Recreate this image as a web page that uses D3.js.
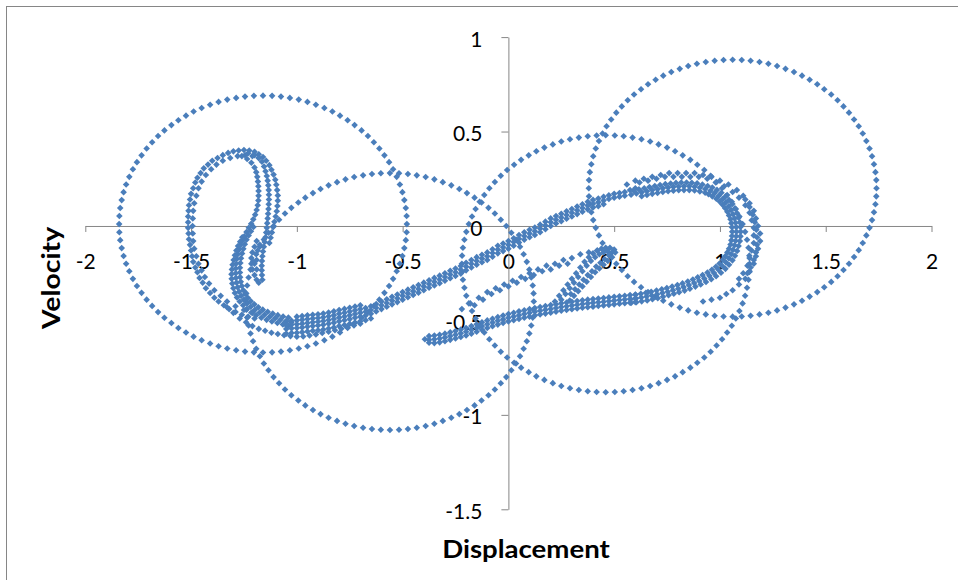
<!DOCTYPE html>
<html><head><meta charset="utf-8">
<script src="https://cdn.jsdelivr.net/npm/d3@7"></script>
<style>body{margin:0;background:#fff}svg{display:block}</style>
</head><body>
<svg id="c" width="958" height="580"></svg>
<script>
const xTicks=[-2,-1.5,-1,-0.5,0,0.5,1,1.5,2];
const yTicks=[-1.5,-1,-0.5,0,0.5,1];
const xTitle="Displacement", yTitle="Velocity";

// dotted circles
const circleLeft=[[-0.48,0.01],[-0.481,0.053],[-0.485,0.095],[-0.492,0.137],[-0.501,0.179],[-0.513,0.22],[-0.528,0.26],[-0.545,0.3],[-0.564,0.338],[-0.586,0.374],[-0.61,0.41],[-0.636,0.443],[-0.664,0.476],[-0.694,0.506],[-0.727,0.534],[-0.76,0.56],[-0.796,0.584],[-0.832,0.606],[-0.87,0.625],[-0.91,0.642],[-0.95,0.657],[-0.991,0.669],[-1.033,0.678],[-1.075,0.685],[-1.117,0.689],
[-1.16,0.69],[-1.203,0.689],[-1.245,0.685],[-1.287,0.678],[-1.329,0.669],[-1.37,0.657],[-1.41,0.642],[-1.45,0.625],[-1.488,0.606],[-1.524,0.584],[-1.56,0.56],[-1.593,0.534],[-1.626,0.506],[-1.656,0.476],[-1.684,0.443],[-1.71,0.41],[-1.734,0.374],[-1.756,0.338],[-1.775,0.3],[-1.792,0.26],[-1.807,0.22],[-1.819,0.179],[-1.828,0.137],[-1.835,0.095],[-1.839,0.053],
[-1.84,0.01],[-1.839,-0.033],[-1.835,-0.075],[-1.828,-0.117],[-1.819,-0.159],[-1.807,-0.2],[-1.792,-0.24],[-1.775,-0.28],[-1.756,-0.318],[-1.734,-0.354],[-1.71,-0.39],[-1.684,-0.423],[-1.656,-0.456],[-1.626,-0.486],[-1.593,-0.514],[-1.56,-0.54],[-1.524,-0.564],[-1.488,-0.586],[-1.45,-0.605],[-1.41,-0.622],[-1.37,-0.637],[-1.329,-0.649],[-1.287,-0.658],[-1.245,-0.665],[-1.203,-0.669],
[-1.16,-0.67],[-1.117,-0.669],[-1.075,-0.665],[-1.033,-0.658],[-0.991,-0.649],[-0.95,-0.637],[-0.91,-0.622],[-0.87,-0.605],[-0.832,-0.586],[-0.796,-0.564],[-0.76,-0.54],[-0.727,-0.514],[-0.694,-0.486],[-0.664,-0.456],[-0.636,-0.423],[-0.61,-0.39],[-0.586,-0.354],[-0.564,-0.318],[-0.545,-0.28],[-0.528,-0.24],[-0.513,-0.2],[-0.501,-0.159],[-0.492,-0.117],[-0.485,-0.075],[-0.481,-0.033]];

const circleLowMid=[[0.12,-0.4],[0.119,-0.357],[0.115,-0.315],[0.108,-0.273],[0.099,-0.231],[0.087,-0.19],[0.072,-0.15],[0.055,-0.11],[0.036,-0.072],[0.014,-0.036],[-0.01,0],[-0.036,0.033],[-0.064,0.066],[-0.094,0.096],[-0.127,0.124],[-0.16,0.15],[-0.196,0.174],[-0.232,0.196],[-0.27,0.215],[-0.31,0.232],[-0.35,0.247],[-0.391,0.259],[-0.433,0.268],[-0.475,0.275],[-0.517,0.279],
[-0.56,0.28],[-0.603,0.279],[-0.645,0.275],[-0.687,0.268],[-0.729,0.259],[-0.77,0.247],[-0.81,0.232],[-0.85,0.215],[-0.888,0.196],[-0.924,0.174],[-0.96,0.15],[-0.993,0.124],[-1.026,0.096],[-1.056,0.066],[-1.084,0.033],[-1.11,0],[-1.134,-0.036],[-1.156,-0.072],[-1.175,-0.11],[-1.192,-0.15],[-1.207,-0.19],[-1.219,-0.231],[-1.228,-0.273],[-1.235,-0.315],[-1.239,-0.357],
[-1.24,-0.4],[-1.239,-0.443],[-1.235,-0.485],[-1.228,-0.527],[-1.219,-0.569],[-1.207,-0.61],[-1.192,-0.65],[-1.175,-0.69],[-1.156,-0.728],[-1.134,-0.764],[-1.11,-0.8],[-1.084,-0.833],[-1.056,-0.866],[-1.026,-0.896],[-0.993,-0.924],[-0.96,-0.95],[-0.924,-0.974],[-0.888,-0.996],[-0.85,-1.015],[-0.81,-1.032],[-0.77,-1.047],[-0.729,-1.059],[-0.687,-1.068],[-0.645,-1.075],[-0.603,-1.079],
[-0.56,-1.08],[-0.517,-1.079],[-0.475,-1.075],[-0.433,-1.068],[-0.391,-1.059],[-0.35,-1.047],[-0.31,-1.032],[-0.27,-1.015],[-0.232,-0.996],[-0.196,-0.974],[-0.16,-0.95],[-0.127,-0.924],[-0.094,-0.896],[-0.064,-0.866],[-0.036,-0.833],[-0.01,-0.8],[0.014,-0.764],[0.036,-0.728],[0.055,-0.69],[0.072,-0.65],[0.087,-0.61],[0.099,-0.569],[0.108,-0.527],[0.115,-0.485],[0.119,-0.443]];

const circleMidRight=[[1.14,-0.2],[1.139,-0.157],[1.135,-0.115],[1.128,-0.073],[1.119,-0.031],[1.107,0.01],[1.092,0.05],[1.075,0.09],[1.056,0.128],[1.034,0.164],[1.01,0.2],[0.984,0.233],[0.956,0.266],[0.926,0.296],[0.893,0.324],[0.86,0.35],[0.824,0.374],[0.788,0.396],[0.75,0.415],[0.71,0.432],[0.67,0.447],[0.629,0.459],[0.587,0.468],[0.545,0.475],[0.503,0.479],
[0.46,0.48],[0.417,0.479],[0.375,0.475],[0.333,0.468],[0.291,0.459],[0.25,0.447],[0.21,0.432],[0.17,0.415],[0.132,0.396],[0.096,0.374],[0.06,0.35],[0.027,0.324],[-0.006,0.296],[-0.036,0.266],[-0.064,0.233],[-0.09,0.2],[-0.114,0.164],[-0.136,0.128],[-0.155,0.09],[-0.172,0.05],[-0.187,0.01],[-0.199,-0.031],[-0.208,-0.073],[-0.215,-0.115],[-0.219,-0.157],
[-0.22,-0.2],[-0.219,-0.243],[-0.215,-0.285],[-0.208,-0.327],[-0.199,-0.369],[-0.187,-0.41],[-0.172,-0.45],[-0.155,-0.49],[-0.136,-0.528],[-0.114,-0.564],[-0.09,-0.6],[-0.064,-0.633],[-0.036,-0.666],[-0.006,-0.696],[0.027,-0.724],[0.06,-0.75],[0.096,-0.774],[0.132,-0.796],[0.17,-0.815],[0.21,-0.832],[0.25,-0.847],[0.291,-0.859],[0.333,-0.868],[0.375,-0.875],[0.417,-0.879],
[0.46,-0.88],[0.503,-0.879],[0.545,-0.875],[0.587,-0.868],[0.629,-0.859],[0.67,-0.847],[0.71,-0.832],[0.75,-0.815],[0.788,-0.796],[0.824,-0.774],[0.86,-0.75],[0.893,-0.724],[0.926,-0.696],[0.956,-0.666],[0.984,-0.633],[1.01,-0.6],[1.034,-0.564],[1.056,-0.528],[1.075,-0.49],[1.092,-0.45],[1.107,-0.41],[1.119,-0.369],[1.128,-0.327],[1.135,-0.285],[1.139,-0.243]];

const circleRight=[[1.74,0.2],[1.739,0.243],[1.735,0.285],[1.728,0.327],[1.719,0.369],[1.707,0.41],[1.692,0.45],[1.675,0.49],[1.656,0.528],[1.634,0.564],[1.61,0.6],[1.584,0.633],[1.556,0.666],[1.526,0.696],[1.493,0.724],[1.46,0.75],[1.424,0.774],[1.388,0.796],[1.35,0.815],[1.31,0.832],[1.27,0.847],[1.229,0.859],[1.187,0.868],[1.145,0.875],[1.103,0.879],
[1.06,0.88],[1.017,0.879],[0.975,0.875],[0.933,0.868],[0.891,0.859],[0.85,0.847],[0.81,0.832],[0.77,0.815],[0.732,0.796],[0.696,0.774],[0.66,0.75],[0.627,0.724],[0.594,0.696],[0.564,0.666],[0.536,0.633],[0.51,0.6],[0.486,0.564],[0.464,0.528],[0.445,0.49],[0.428,0.45],[0.413,0.41],[0.401,0.369],[0.392,0.327],[0.385,0.285],[0.381,0.243],
[0.38,0.2],[0.381,0.157],[0.385,0.115],[0.392,0.073],[0.401,0.031],[0.413,-0.01],[0.428,-0.05],[0.445,-0.09],[0.464,-0.128],[0.486,-0.164],[0.51,-0.2],[0.536,-0.233],[0.564,-0.266],[0.594,-0.296],[0.627,-0.324],[0.66,-0.35],[0.696,-0.374],[0.732,-0.396],[0.77,-0.415],[0.81,-0.432],[0.85,-0.447],[0.891,-0.459],[0.933,-0.468],[0.975,-0.475],[1.017,-0.479],
[1.06,-0.48],[1.103,-0.479],[1.145,-0.475],[1.187,-0.468],[1.229,-0.459],[1.27,-0.447],[1.31,-0.432],[1.35,-0.415],[1.388,-0.396],[1.424,-0.374],[1.46,-0.35],[1.493,-0.324],[1.526,-0.296],[1.556,-0.266],[1.584,-0.233],[1.61,-0.2],[1.634,-0.164],[1.656,-0.128],[1.675,-0.09],[1.692,-0.05],[1.707,-0.01],[1.719,0.031],[1.728,0.073],[1.735,0.115],[1.739,0.157]];

// ---- attractor: left well ----
const leftOuter=[[-1.2,-0.49],[-1.23,-0.48],[-1.26,-0.47],[-1.29,-0.455],[-1.32,-0.44],[-1.345,-0.42],[-1.37,-0.4],[-1.39,-0.38],[-1.41,-0.355],[-1.43,-0.33],[-1.445,-0.3],[-1.46,-0.275],[-1.47,-0.245],[-1.48,-0.22],[-1.49,-0.19],[-1.495,-0.16],[-1.5,-0.13],[-1.505,-0.1],[-1.51,-0.07],[-1.512,-0.04],[-1.514,-0.01],[-1.514,0.02],[-1.514,0.05],[-1.512,0.08],[-1.51,0.11],[-1.505,0.14],[-1.5,0.17],[-1.49,0.2],[-1.48,0.23],[-1.47,0.255],[-1.455,0.28],[-1.44,0.305],[-1.42,0.325],[-1.4,0.345],[-1.375,0.36],[-1.35,0.375],[-1.325,0.387],[-1.3,0.395],[-1.275,0.4],[-1.25,0.402],[-1.225,0.4],[-1.2,0.393],[-1.18,0.38],[-1.16,0.365],[-1.145,0.345],[-1.13,0.322],[-1.12,0.298],[-1.11,0.272],[-1.102,0.245],[-1.097,0.218],[-1.093,0.19],[-1.09,0.162],[-1.09,0.134],[-1.092,0.106],[-1.095,0.078],[-1.1,0.05],[-1.106,0.022],[-1.112,-0.006],[-1.118,-0.034],[-1.124,-0.062],[-1.13,-0.09]];
const leftOuter2=[[-1.21,-0.46],[-1.25,-0.445],[-1.29,-0.425],[-1.33,-0.4],[-1.36,-0.37],[-1.39,-0.34],[-1.415,-0.305],[-1.435,-0.27],[-1.45,-0.235],[-1.465,-0.2],[-1.475,-0.16],[-1.485,-0.12],[-1.49,-0.08],[-1.492,-0.04],[-1.493,0],[-1.492,0.04],[-1.49,0.08],[-1.485,0.12],[-1.475,0.16],[-1.465,0.2],[-1.45,0.235],[-1.43,0.27],[-1.405,0.3],[-1.38,0.325],[-1.35,0.345],[-1.315,0.36],[-1.28,0.37],[-1.245,0.375],[-1.21,0.37],[-1.18,0.36]];
const leftMid=[[-1.23,0.385],[-1.2,0.375],[-1.18,0.36],[-1.165,0.34],[-1.155,0.315],[-1.148,0.29],[-1.142,0.265],[-1.138,0.24],[-1.135,0.215],[-1.133,0.19],[-1.132,0.165],[-1.132,0.14],[-1.133,0.115],[-1.134,0.09],[-1.136,0.065],[-1.138,0.04],[-1.14,0.015],[-1.142,-0.01],[-1.145,-0.035],[-1.148,-0.06],[-1.152,-0.085],[-1.156,-0.11],[-1.16,-0.135],[-1.163,-0.16],[-1.165,-0.185],[-1.166,-0.21],[-1.166,-0.235],[-1.165,-0.26],[-1.163,-0.285]];
const leftBlob=[[-1.19,-0.08],[-1.2,-0.11],[-1.21,-0.14],[-1.215,-0.17],[-1.215,-0.2],[-1.21,-0.23],[-1.2,-0.26],[-1.19,-0.285],[-1.18,-0.3],[-1.185,-0.13],[-1.19,-0.18],[-1.19,-0.23],[-1.175,-0.1],[-1.2,-0.2]];
const leftS1=[[-1.26,0.37],[-1.235,0.355],[-1.215,0.335],[-1.2,0.31],[-1.192,0.285],[-1.187,0.26],[-1.184,0.235],[-1.182,0.21],[-1.181,0.185],[-1.181,0.16],[-1.182,0.135],[-1.185,0.11],[-1.19,0.085],[-1.197,0.06],[-1.206,0.035],[-1.216,0.012],[-1.227,-0.01],[-1.238,-0.032],[-1.248,-0.055],[-1.258,-0.078],[-1.266,-0.1],[-1.273,-0.125],[-1.279,-0.15],[-1.284,-0.175],[-1.287,-0.2],[-1.289,-0.225],[-1.289,-0.25],[-1.288,-0.275],[-1.285,-0.3],[-1.28,-0.325],[-1.273,-0.348],[-1.263,-0.37],[-1.25,-0.39],[-1.235,-0.41],[-1.218,-0.428],[-1.198,-0.444],[-1.176,-0.458],[-1.153,-0.47],[-1.128,-0.48],[-1.103,-0.489],[-1.078,-0.497],[-1.052,-0.504],[-1.026,-0.51]];
const leftS2=[[-1.205,-0.005],[-1.217,-0.028],[-1.228,-0.05],[-1.238,-0.073],[-1.246,-0.097],[-1.253,-0.121],[-1.259,-0.146],[-1.264,-0.171],[-1.267,-0.196],[-1.269,-0.221],[-1.269,-0.246],[-1.268,-0.271],[-1.265,-0.295],[-1.26,-0.318],[-1.253,-0.34],[-1.244,-0.36],[-1.232,-0.38],[-1.218,-0.398],[-1.201,-0.415],[-1.182,-0.43],[-1.161,-0.443],[-1.138,-0.454],[-1.114,-0.464],[-1.09,-0.472],[-1.065,-0.479],[-1.04,-0.485]];
const leftS3=[[-1.258,-0.06],[-1.268,-0.083],[-1.278,-0.106],[-1.286,-0.13],[-1.293,-0.155],[-1.299,-0.18],[-1.304,-0.205],[-1.307,-0.23],[-1.309,-0.255],[-1.308,-0.28],[-1.305,-0.305],[-1.3,-0.33],[-1.293,-0.355],[-1.283,-0.378],[-1.27,-0.4],[-1.254,-0.42],[-1.236,-0.44],[-1.215,-0.458],[-1.192,-0.473],[-1.168,-0.486],[-1.143,-0.497],[-1.118,-0.506],[-1.092,-0.514],[-1.066,-0.521],[-1.04,-0.527]];
const leftBottom=[[-1.33,-0.43],[-1.3,-0.46],[-1.27,-0.49],[-1.24,-0.51],[-1.21,-0.53],[-1.18,-0.545],[-1.15,-0.555],[-1.12,-0.565],[-1.09,-0.572],[-1.06,-0.578],[-1.03,-0.583],[-1,-0.586],[-0.97,-0.585],[-0.94,-0.58],[-0.91,-0.574],[-0.88,-0.567],[-0.85,-0.56],[-0.82,-0.552],[-0.79,-0.544],[-0.76,-0.536],[-0.73,-0.527],[-0.7,-0.518]];

// ---- diagonal band (left well -> right well) ----
const diagTop=[[-1.05,-0.505],[-1.025,-0.502],[-1,-0.5],[-0.975,-0.497],[-0.95,-0.493],[-0.925,-0.49],[-0.9,-0.487],[-0.875,-0.483],[-0.85,-0.478],[-0.825,-0.472],[-0.8,-0.465],[-0.775,-0.459],[-0.75,-0.453],[-0.725,-0.446],[-0.7,-0.44],[-0.675,-0.434],[-0.65,-0.425],[-0.625,-0.413],[-0.6,-0.4],[-0.575,-0.388],[-0.55,-0.375],[-0.525,-0.363],[-0.5,-0.35],[-0.475,-0.337],[-0.45,-0.325],[-0.425,-0.313],[-0.4,-0.3],[-0.375,-0.287],[-0.35,-0.275],[-0.325,-0.263],[-0.3,-0.25],[-0.275,-0.237],[-0.25,-0.225],[-0.225,-0.212],[-0.2,-0.195],[-0.175,-0.18],[-0.15,-0.165],[-0.125,-0.152],[-0.1,-0.14],[-0.075,-0.123],[-0.05,-0.105],[-0.025,-0.093],[0,-0.08],[0.025,-0.065],[0.05,-0.048],[0.075,-0.033],[0.1,-0.02],[0.125,-0.008],[0.15,0.007],[0.175,0.023],[0.2,0.04],[0.225,0.053],[0.25,0.065],[0.275,0.078],[0.3,0.09],[0.325,0.103],[0.35,0.115],[0.375,0.128],[0.4,0.138],[0.425,0.145],[0.45,0.155],[0.475,0.163],[0.5,0.17],[0.525,0.175],[0.55,0.18],[0.575,0.19],[0.6,0.2]];
const diagMid=[[-1.05,-0.525],[-1.025,-0.522],[-1,-0.52],[-0.975,-0.517],[-0.95,-0.513],[-0.925,-0.51],[-0.9,-0.507],[-0.875,-0.503],[-0.85,-0.498],[-0.825,-0.492],[-0.8,-0.485],[-0.775,-0.479],[-0.75,-0.473],[-0.725,-0.466],[-0.7,-0.46],[-0.675,-0.454],[-0.65,-0.445],[-0.625,-0.433],[-0.6,-0.42],[-0.575,-0.408],[-0.55,-0.395],[-0.525,-0.383],[-0.5,-0.37],[-0.475,-0.357],[-0.45,-0.345],[-0.425,-0.333],[-0.4,-0.32],[-0.375,-0.307],[-0.35,-0.295],[-0.325,-0.283],[-0.3,-0.27],[-0.275,-0.257],[-0.25,-0.245],[-0.225,-0.232],[-0.2,-0.215],[-0.175,-0.2],[-0.15,-0.185],[-0.125,-0.172],[-0.1,-0.16],[-0.075,-0.143],[-0.05,-0.125],[-0.025,-0.113],[0,-0.1],[0.025,-0.085],[0.05,-0.068],[0.075,-0.053],[0.1,-0.04],[0.125,-0.028],[0.15,-0.013],[0.175,0.003],[0.2,0.02],[0.225,0.033],[0.25,0.045],[0.275,0.058],[0.3,0.07],[0.325,0.083],[0.35,0.095],[0.375,0.108],[0.4,0.118],[0.425,0.125],[0.45,0.135],[0.475,0.143],[0.5,0.15],[0.525,0.155],[0.55,0.16]];
const diagBot=[[-1.05,-0.545],[-1.025,-0.542],[-1,-0.54],[-0.975,-0.537],[-0.95,-0.533],[-0.925,-0.53],[-0.9,-0.527],[-0.875,-0.523],[-0.85,-0.518],[-0.825,-0.512],[-0.8,-0.505],[-0.775,-0.499],[-0.75,-0.493],[-0.725,-0.486],[-0.7,-0.48],[-0.675,-0.474],[-0.65,-0.465],[-0.625,-0.453],[-0.6,-0.44],[-0.575,-0.428],[-0.55,-0.415],[-0.525,-0.403],[-0.5,-0.39],[-0.475,-0.377],[-0.45,-0.365],[-0.425,-0.353],[-0.4,-0.34],[-0.375,-0.327],[-0.35,-0.315],[-0.325,-0.303],[-0.3,-0.29],[-0.275,-0.277],[-0.25,-0.265],[-0.225,-0.252],[-0.2,-0.235],[-0.175,-0.22],[-0.15,-0.205],[-0.125,-0.192],[-0.1,-0.18],[-0.075,-0.163],[-0.05,-0.145],[-0.025,-0.133],[0,-0.12],[0.025,-0.105],[0.05,-0.088],[0.075,-0.073],[0.1,-0.06],[0.125,-0.048],[0.15,-0.033],[0.175,-0.017],[0.2,0],[0.225,0.013],[0.25,0.025],[0.275,0.038],[0.3,0.05],[0.325,0.063],[0.35,0.075],[0.375,0.088],[0.4,0.098],[0.425,0.105],[0.45,0.115]];
const diagLower=[[-1.05,-0.57],[-1.025,-0.567],[-1,-0.565],[-0.975,-0.562],[-0.95,-0.558],[-0.925,-0.555],[-0.9,-0.552],[-0.875,-0.548],[-0.85,-0.543],[-0.825,-0.537],[-0.8,-0.53],[-0.775,-0.524],[-0.75,-0.518],[-0.725,-0.511],[-0.7,-0.505],[-0.675,-0.499],[-0.65,-0.49]];
const diagUpper=[[-1,-0.48],[-0.975,-0.477],[-0.95,-0.473],[-0.925,-0.47],[-0.9,-0.467],[-0.875,-0.463],[-0.85,-0.458],[-0.825,-0.452],[-0.8,-0.445],[-0.775,-0.439],[-0.75,-0.433],[-0.725,-0.426],[-0.7,-0.42]];

// ---- right well ----
const rightOuter=[[0.56,0.22],[0.6,0.24],[0.64,0.25],[0.68,0.26],[0.72,0.27],[0.76,0.28],[0.8,0.28],[0.84,0.28],[0.88,0.28],[0.92,0.27],[0.96,0.26],[1,0.24],[1.04,0.22],[1.08,0.19],[1.11,0.16],[1.14,0.12],[1.16,0.08],[1.17,0.04],[1.18,0],[1.19,-0.04],[1.19,-0.08],[1.18,-0.12],[1.17,-0.16],[1.16,-0.2],[1.14,-0.24],[1.12,-0.28],[1.09,-0.31],[1.06,-0.34],[1.03,-0.36],[1,-0.38],[0.96,-0.39],[0.92,-0.4]];
const rightOuter2=[[0.62,0.23],[0.66,0.24],[0.7,0.25],[0.74,0.26],[0.78,0.26],[0.82,0.26],[0.86,0.26],[0.9,0.26],[0.94,0.25],[0.98,0.23],[1.02,0.21],[1.06,0.18],[1.09,0.15],[1.12,0.11],[1.14,0.07],[1.15,0.03],[1.16,-0.01],[1.16,-0.05],[1.16,-0.09],[1.15,-0.13],[1.14,-0.17],[1.13,-0.21],[1.11,-0.25],[1.09,-0.28]];
const rightOuter3=[[1.12,0.14],[1.14,0.1],[1.155,0.06],[1.165,0.02],[1.172,-0.02],[1.175,-0.06],[1.175,-0.1],[1.17,-0.14],[1.16,-0.18],[1.145,-0.22],[1.13,-0.25]];
const rightInMid=[[0.58,0.165],[0.605,0.172],[0.63,0.178],[0.655,0.184],[0.68,0.19],[0.705,0.195],[0.73,0.2],[0.755,0.204],[0.78,0.207],[0.805,0.209],[0.83,0.21],[0.855,0.21],[0.88,0.208],[0.905,0.203],[0.93,0.196],[0.955,0.186],[0.975,0.174],[0.995,0.16],[1.013,0.143],[1.028,0.125],[1.042,0.105],[1.053,0.084],[1.062,0.062],[1.069,0.04],[1.074,0.017],[1.077,-0.006],[1.078,-0.03],[1.077,-0.054],[1.074,-0.078],[1.069,-0.102],[1.062,-0.126],[1.053,-0.149],[1.042,-0.171],[1.028,-0.192],[1.012,-0.213],[0.993,-0.232],[0.972,-0.249],[0.95,-0.264],[0.926,-0.278],[0.902,-0.291],[0.878,-0.302],[0.853,-0.313],[0.828,-0.323],[0.803,-0.332],[0.778,-0.34],[0.753,-0.348],[0.728,-0.355],[0.703,-0.362],[0.678,-0.368],[0.653,-0.374],[0.628,-0.379],[0.603,-0.384],[0.578,-0.388]];
const rightInOuter=[[0.592,0.187],[0.617,0.194],[0.642,0.2],[0.667,0.206],[0.692,0.212],[0.717,0.217],[0.742,0.222],[0.767,0.225],[0.792,0.228],[0.817,0.23],[0.842,0.23],[0.867,0.229],[0.892,0.226],[0.917,0.22],[0.942,0.212],[0.964,0.204],[0.986,0.191],[1.007,0.176],[1.027,0.157],[1.043,0.138],[1.059,0.116],[1.071,0.093],[1.081,0.068],[1.088,0.044],[1.094,0.019],[1.097,-0.005],[1.098,-0.03],[1.097,-0.055],[1.094,-0.08],[1.088,-0.106],[1.081,-0.132],[1.071,-0.158],[1.059,-0.182],[1.043,-0.205],[1.026,-0.227],[1.005,-0.248],[0.982,-0.266],[0.959,-0.282],[0.934,-0.296],[0.909,-0.31],[0.884,-0.321],[0.858,-0.332],[0.833,-0.342],[0.807,-0.351],[0.782,-0.359],[0.757,-0.367],[0.731,-0.375],[0.706,-0.382],[0.681,-0.388],[0.656,-0.394],[0.63,-0.399],[0.605,-0.404],[0.58,-0.408]];
const rightInInner=[[0.63,0.158],[0.655,0.164],[0.68,0.17],[0.705,0.175],[0.73,0.18],[0.755,0.184],[0.78,0.187],[0.805,0.189],[0.83,0.19],[0.855,0.19],[0.88,0.188],[0.905,0.183],[0.93,0.176],[0.946,0.168],[0.964,0.157],[0.983,0.144],[0.999,0.129],[1.013,0.112],[1.025,0.094],[1.035,0.075],[1.043,0.056],[1.05,0.036],[1.054,0.015],[1.057,-0.007],[1.058,-0.03],[1.057,-0.053],[1.054,-0.076],[1.05,-0.098],[1.043,-0.12],[1.035,-0.14],[1.025,-0.16],[1.013,-0.179],[0.998,-0.199],[0.981,-0.216],[0.962,-0.232],[0.941,-0.246],[0.918,-0.26],[0.895,-0.272],[0.872,-0.283],[0.848,-0.294],[0.823,-0.304],[0.799,-0.313],[0.774,-0.321],[0.749,-0.329],[0.725,-0.335],[0.7,-0.342],[0.675,-0.348],[0.65,-0.354],[0.626,-0.359],[0.601,-0.364]];

// ---- lower return band (right well -> tip) ----
const lowTop=[[0.6,-0.363],[0.575,-0.366],[0.55,-0.369],[0.525,-0.372],[0.5,-0.375],[0.475,-0.378],[0.45,-0.381],[0.425,-0.384],[0.4,-0.387],[0.375,-0.39],[0.35,-0.393],[0.325,-0.397],[0.3,-0.401],[0.275,-0.405],[0.25,-0.409],[0.225,-0.414],[0.2,-0.419],[0.175,-0.424],[0.15,-0.429],[0.125,-0.434],[0.1,-0.44],[0.075,-0.446],[0.05,-0.452],[0.025,-0.459],[0,-0.466],[-0.025,-0.474],[-0.05,-0.482],[-0.075,-0.491],[-0.1,-0.5],[-0.125,-0.51],[-0.15,-0.52],[-0.175,-0.53],[-0.2,-0.54],[-0.225,-0.548],[-0.25,-0.556],[-0.275,-0.563],[-0.3,-0.57],[-0.325,-0.576],[-0.35,-0.58],[-0.375,-0.583]];
const lowMid=[[0.6,-0.383],[0.575,-0.386],[0.55,-0.389],[0.525,-0.392],[0.5,-0.395],[0.475,-0.398],[0.45,-0.401],[0.425,-0.404],[0.4,-0.407],[0.375,-0.41],[0.35,-0.413],[0.325,-0.417],[0.3,-0.421],[0.275,-0.425],[0.25,-0.429],[0.225,-0.434],[0.2,-0.439],[0.175,-0.444],[0.15,-0.449],[0.125,-0.454],[0.1,-0.46],[0.075,-0.466],[0.05,-0.472],[0.025,-0.479],[0,-0.486],[-0.025,-0.494],[-0.05,-0.502],[-0.075,-0.511],[-0.1,-0.52],[-0.125,-0.53],[-0.15,-0.54],[-0.175,-0.55],[-0.2,-0.56],[-0.225,-0.568],[-0.25,-0.576],[-0.275,-0.583],[-0.3,-0.59],[-0.325,-0.596],[-0.35,-0.6],[-0.375,-0.603],[-0.395,-0.6]];
const lowBot=[[0.6,-0.403],[0.575,-0.406],[0.55,-0.409],[0.525,-0.412],[0.5,-0.415],[0.475,-0.418],[0.45,-0.421],[0.425,-0.424],[0.4,-0.427],[0.375,-0.43],[0.35,-0.433],[0.325,-0.437],[0.3,-0.441],[0.275,-0.445],[0.25,-0.449],[0.225,-0.454],[0.2,-0.459],[0.175,-0.464],[0.15,-0.469],[0.125,-0.474],[0.1,-0.48],[0.075,-0.486],[0.05,-0.492],[0.025,-0.499],[0,-0.506],[-0.025,-0.514],[-0.05,-0.522],[-0.075,-0.531],[-0.1,-0.54],[-0.125,-0.55],[-0.15,-0.56],[-0.175,-0.57],[-0.2,-0.58],[-0.225,-0.588],[-0.25,-0.596],[-0.275,-0.603],[-0.3,-0.61],[-0.325,-0.616],[-0.35,-0.62],[-0.375,-0.618]];
const midA=[[-0.22,-0.44],[-0.18,-0.41],[-0.14,-0.38],[-0.1,-0.35],[-0.06,-0.33],[-0.02,-0.31],[0.02,-0.29],[0.06,-0.27],[0.1,-0.25],[0.14,-0.23],[0.18,-0.21],[0.22,-0.2],[0.26,-0.18],[0.3,-0.17],[0.34,-0.15],[0.38,-0.14],[0.42,-0.13]];
const midB=[[-0.16,-0.42],[-0.12,-0.39],[-0.08,-0.36],[-0.04,-0.34],[0,-0.32],[0.04,-0.3],[0.08,-0.28],[0.12,-0.26],[0.16,-0.24],[0.2,-0.23],[0.24,-0.21],[0.28,-0.2]];
// ---- small loop inside the right-middle circle ----
const hookUp1=[[0.22,-0.4],[0.24,-0.37],[0.26,-0.34],[0.28,-0.31],[0.3,-0.28],[0.32,-0.25],[0.34,-0.22],[0.36,-0.19],[0.38,-0.165],[0.4,-0.145],[0.42,-0.13],[0.44,-0.12],[0.46,-0.115],[0.48,-0.115],[0.5,-0.125]];
const hookUp2=[[0.25,-0.39],[0.27,-0.36],[0.29,-0.33],[0.31,-0.3],[0.33,-0.27],[0.35,-0.24],[0.37,-0.21],[0.39,-0.185],[0.41,-0.165],[0.43,-0.15],[0.45,-0.14],[0.47,-0.135],[0.49,-0.14]];
const hookDn1=[[0.505,-0.14],[0.49,-0.165],[0.47,-0.185],[0.45,-0.205],[0.43,-0.225],[0.41,-0.245],[0.39,-0.27],[0.37,-0.295],[0.35,-0.32],[0.33,-0.345],[0.31,-0.37],[0.29,-0.395]];
const hookDn2=[[0.475,-0.155],[0.455,-0.175],[0.435,-0.195],[0.415,-0.215],[0.395,-0.24],[0.375,-0.26],[0.355,-0.285],[0.335,-0.31],[0.315,-0.335],[0.295,-0.36]];

const seriesList=[circleLeft,circleLowMid,circleMidRight,circleRight,
  leftOuter,leftOuter2,leftMid,leftBlob,leftS1,leftS2,leftS3,leftBottom,
  diagTop,diagMid,diagBot,diagLower,diagUpper,
  rightOuter,rightOuter2,rightOuter3,rightInMid,rightInOuter,rightInInner,
  lowTop,lowMid,lowBot,midA,midB,hookUp1,hookUp2,hookDn1,hookDn2];

const svg=d3.select('#c');
const x=d3.scaleLinear().domain([-2,2]).range([85.3,931.5]);
const y=d3.scaleLinear().domain([-1.5,1]).range([509.3,37.1]);
const axisColor='#868686';
const font='Lato, "Open Sans", sans-serif';

svg.append('rect').attr('x',6.5).attr('y',6.5).attr('width',1200).attr('height',800)
  .attr('fill','none').attr('stroke',axisColor).attr('stroke-width',1);

const gx=svg.append('g').attr('transform',`translate(0,${y(0)})`)
  .call(d3.axisBottom(x).tickValues(xTicks).tickSize(6).tickSizeOuter(0).tickFormat(d=>String(d)));
const gy=svg.append('g').attr('transform',`translate(${x(0)},0)`)
  .call(d3.axisLeft(y).tickValues(yTicks).tickSize(7).tickSizeOuter(0).tickFormat(d=>String(d)));
[gx,gy].forEach(g=>{
  g.select('.domain').attr('stroke',axisColor);
  g.selectAll('.tick line').attr('stroke',axisColor);
  g.selectAll('text').attr('fill','#000').attr('font-family',font).attr('font-size',21);
});
gx.selectAll('text').attr('y',43).attr('dy',0);
gy.selectAll('text').attr('x',-26).attr('dy','0.36em').attr('y',1.5);

const diamond='M0,-3.3L3.3,0L0,3.3L-3.3,0Z';
svg.append('g').selectAll('g').data(seriesList).join('g')
  .selectAll('path').data(d=>d).join('path')
  .attr('transform',d=>`translate(${x(d[0]).toFixed(2)},${y(d[1]).toFixed(2)})`)
  .attr('d',diamond).attr('fill','#4a7ebb');

svg.append('text').text(xTitle).attr('transform','translate(526,558) scale(1.15,1)').attr('text-anchor','middle')
  .attr('font-family',font).attr('font-weight','bold').attr('font-size',24).attr('fill','#000');
svg.append('text').text(yTitle).attr('transform','translate(60,278) rotate(-90) scale(1.18,1)').attr('text-anchor','middle')
  .attr('font-family',font).attr('font-weight','bold').attr('font-size',24).attr('fill','#000');
</script>
</body></html>
